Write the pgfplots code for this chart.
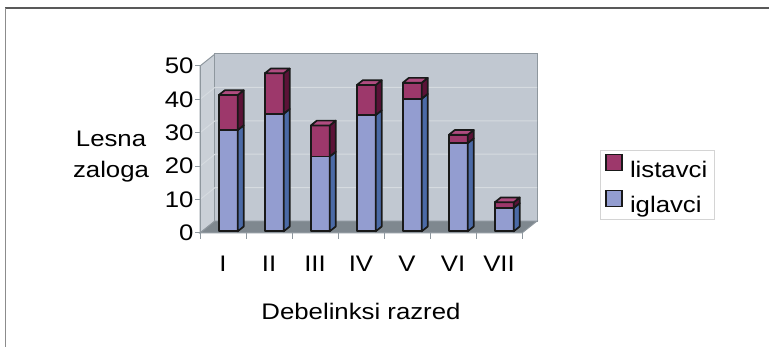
\documentclass[border=0pt]{standalone}
\usepackage{fontspec}
\setmainfont{Liberation Sans}[FakeStretch=1.145]
\usepackage{pgfplots}
\usepackage{pgfplotstable}
\pgfplotsset{compat=1.18}

% growing stock by diameter class: conifers (iglavci) and broadleaves (listavci)
\pgfplotstableread{
cls ig   li
0   30.3 10.5
1   35.2 12.1
2   22.4 9.3
3   34.8 9.0
4   39.7 4.8
5   26.4 2.5
6   7.0  1.7
}\zaloga

\definecolor{wallback}{HTML}{C1C8D1}
\definecolor{wallside}{HTML}{CAD0D7}
\definecolor{floorc}{HTML}{7F888F}
\definecolor{edgec}{HTML}{8E979E}
\definecolor{gridc}{HTML}{D6DBE0}
\definecolor{igfront}{HTML}{939DD0}
\definecolor{igside}{HTML}{4B6AA6}
\definecolor{lifront}{HTML}{9D386B}
\definecolor{liside}{HTML}{5B1237}
\definecolor{litop}{HTML}{B04C80}
\definecolor{legframe}{HTML}{D4D4D4}

% wall depth (dx, dy) and bar depth (bdx, bdy) in axis units
\def\dx{0.326}
\def\dy{3.59}
\def\bdx{0.13}
\def\bdy{1.44}
\def\base{0.5}

\begin{document}
\begin{tikzpicture}
\useasboundingbox (0,0) rectangle (769bp,347bp);
% outer frame
\draw[line width=1.5bp, color=black!65] (5bp,339bp) -- (769bp,339bp);
\draw[line width=1.5bp, color=black!45] (5.5bp,339bp) -- (5.5bp,0bp);

\begin{axis}[
  at={(200bp,114bp)}, anchor=south west,
  scale only axis, width=337bp, height=179bp,
  xmin=0, xmax=7.326, ymin=0, ymax=53.59,
  clip=false,
  axis line style={draw=none},
  major tick length=0pt,
  font=\fontsize{22.5bp}{27bp}\selectfont,
  ytick={0,10,20,30,40,50},
  yticklabels={0,10,20,30,40,50},
  yticklabel style={xshift=-3bp},
  xtick={0.5,1.5,2.5,3.5,4.5,5.5,6.5},
  xticklabels={I,II,III,IV,V,VI,VII},
  xticklabel style={yshift=-20bp},
  xlabel={Debelinksi razred},
  xlabel style={at={(axis description cs:0.4777,-0.4358)}, anchor=center},
  ylabel={Lesna\\zaloga},
  ylabel style={rotate=-90, at={(axis description cs:-0.264,0.4246)},
    anchor=center, align=center, font=\fontsize{22.5bp}{31bp}\selectfont},
  legend style={at={(axis description cs:1.187,0.4637)}, anchor=north west,
    draw=legframe, line width=0.8bp, inner xsep=5bp, inner ysep=3.5bp,
    row sep=9bp, column sep=5bp, font=\fontsize{22.5bp}{27bp}\selectfont,
    legend cell align=left},
  legend image code/.code={%
    \draw[#1, line width=1.6bp] (0bp,-1bp) rectangle (16bp,15bp);},
]
% side wall, back wall and floor
\draw[fill=wallside, draw=edgec, line width=1bp]
  (axis cs:0,0) -- (axis cs:\dx,\dy) -- (axis cs:\dx,50+\dy) -- (axis cs:0,50) -- cycle;
\draw[fill=wallback, draw=edgec, line width=1bp]
  (axis cs:\dx,\dy) -- (axis cs:7+\dx,\dy) -- (axis cs:7+\dx,50+\dy) -- (axis cs:\dx,50+\dy) -- cycle;
\pgfplotsinvokeforeach{10,20,30,40}{
  \draw[gridc, line width=1bp] (axis cs:0,#1) -- (axis cs:\dx,#1+\dy) -- (axis cs:7+\dx,#1+\dy);
}
\draw[fill=floorc, draw=edgec, line width=1bp]
  (axis cs:0,0) -- (axis cs:7,0) -- (axis cs:7+\dx,\dy) -- (axis cs:\dx,\dy) -- cycle;
% front edges and tick marks
\draw[edgec, line width=1bp] (axis cs:0,50) -- (axis cs:0,0) -- (axis cs:7,0);
\pgfplotsinvokeforeach{0,10,20,30,40,50}{
  \draw[edgec, line width=1bp] (axis cs:0,#1) -- ++(-5bp,0);
}
\pgfplotsinvokeforeach{0,...,7}{
  \draw[edgec, line width=1bp] (axis cs:#1,0) -- ++(0,-6bp);
}

% stacked 3-D columns, one per diameter class
\pgfplotsinvokeforeach{0,...,6}{
  \pgfplotstablegetelem{#1}{ig}\of\zaloga \edef\vig{\pgfplotsretval}
  \pgfplotstablegetelem{#1}{li}\of\zaloga \edef\vli{\pgfplotsretval}
  \pgfmathsetmacro\xl{#1+0.41}
  \pgfmathsetmacro\xr{#1+0.82}
  \pgfmathsetmacro\xs{\xr+\bdx}
  \pgfmathsetmacro\xq{\xl+\bdx}
  \pgfmathsetmacro\yb{\base}
  \pgfmathsetmacro\ybs{\base+\bdy}
  \pgfmathsetmacro\yi{\base+\vig}
  \pgfmathsetmacro\yis{\yi+\bdy}
  \pgfmathsetmacro\yt{\yi+\vli}
  \pgfmathsetmacro\yts{\yt+\bdy}
  \edef\column{%
    \noexpand\addplot[forget plot, fill=igfront, draw=black!90, line width=1.7bp, line join=round]
      coordinates {(\xl,\yb) (\xr,\yb) (\xr,\yi) (\xl,\yi)} -- cycle;
    \noexpand\addplot[forget plot, fill=igside, draw=black!90, line width=1.7bp, line join=round]
      coordinates {(\xr,\yb) (\xs,\ybs) (\xs,\yis) (\xr,\yi)} -- cycle;
    \noexpand\addplot[forget plot, fill=lifront, draw=black!90, line width=1.7bp, line join=round]
      coordinates {(\xl,\yi) (\xr,\yi) (\xr,\yt) (\xl,\yt)} -- cycle;
    \noexpand\addplot[forget plot, fill=liside, draw=black!90, line width=1.7bp, line join=round]
      coordinates {(\xr,\yi) (\xs,\yis) (\xs,\yts) (\xr,\yt)} -- cycle;
    \noexpand\addplot[forget plot, fill=litop, draw=black!90, line width=1.7bp, line join=round]
      coordinates {(\xl,\yt) (\xr,\yt) (\xs,\yts) (\xq,\yts)} -- cycle;
  }
  \column
}

\addlegendimage{fill=lifront, draw=black!90}
\addlegendentry{listavci}
\addlegendimage{fill=igfront, draw=black!90}
\addlegendentry{iglavci}
\end{axis}
\end{tikzpicture}
\end{document}
